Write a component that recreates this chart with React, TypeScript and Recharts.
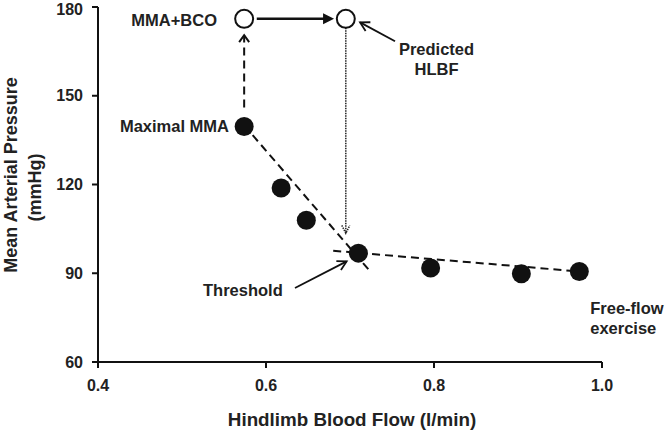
import React from 'react';
import {
  ScatterChart,
  Scatter,
  XAxis,
  YAxis,
  ReferenceLine,
  ReferenceDot,
  Customized,
} from 'recharts';

// ---- data ----
const flowMeasured = [0.574, 0.618, 0.648, 0.71, 0.796, 0.904, 0.973];
const mapMeasured = [139.6, 118.8, 107.9, 96.8, 91.8, 89.8, 90.6];
const flowPredicted = [0.574, 0.695];
const mapPredicted = [176, 176];
const xTicks = [0.4, 0.6, 0.8, 1.0];
const yTicks = [60, 90, 120, 150, 180];

// fitted regression segments [x1, y1, x2, y2]
const steepFit = [0.574, 140, 0.725, 90.3];
const flatFit = [0.68, 97.6, 0.973, 90.6];

// arrows [x1, y1, x2, y2]
const arrowUp = [0.574, 146, 0.574, 170.5];
const arrowRight = [0.589, 176, 0.681, 176];
const arrowDown = [0.695, 173, 0.695, 103.5];
const arrowPredicted = [0.7536, 168.4, 0.712, 174.8];
const arrowThreshold = [0.6345, 85.0, 0.696, 94.0];

// annotation labels
const labelTexts = ['MMA+BCO', 'Maximal MMA', 'Predicted', 'HLBF', 'Threshold', 'Free-flow', 'exercise'];
const labelX = [0.5417, 0.556, 0.803, 0.803, 0.62, 0.986, 0.986];
const labelY = [175.6, 139.6, 165.6, 158.8, 84.4, 78.3, 71.5];
const labelAnchor = ['end', 'end', 'middle', 'middle', 'end', 'start', 'start'];

const FONT = '"Liberation Sans", Arial, Helvetica, sans-serif';
const INK = '#111';
const TEXT = '#222';

const measured = flowMeasured.map((x, i) => ({ x, y: mapMeasured[i] }));
const predicted = flowPredicted.map((x, i) => ({ x, y: mapPredicted[i] }));

const seg = (s: number[]) => [
  { x: s[0], y: s[1] },
  { x: s[2], y: s[3] },
];

type ArrowOpts = {
  filled?: boolean;
  dash?: string;
  width?: number;
  headLen?: number;
  headW?: number;
  color?: string;
  headDash?: string;
};

const arrowShape = (o: ArrowOpts) => (p: any) => {
  const { x1, y1, x2, y2 } = p;
  const dx = x2 - x1;
  const dy = y2 - y1;
  const len = Math.hypot(dx, dy) || 1;
  const ux = dx / len;
  const uy = dy / len;
  const hl = o.headLen ?? 9;
  const hw = o.headW ?? 5;
  const bx = x2 - ux * hl;
  const by = y2 - uy * hl;
  const lx = bx - uy * hw;
  const ly = by + ux * hw;
  const rx = bx + uy * hw;
  const ry = by - ux * hw;
  const c = o.color ?? INK;
  const w = o.width ?? 2;
  return (
    <g>
      <line
        x1={x1}
        y1={y1}
        x2={o.filled ? bx + ux : x2}
        y2={o.filled ? by + uy : y2}
        stroke={c}
        strokeWidth={w}
        strokeDasharray={o.dash}
      />
      {o.filled ? (
        <polygon points={`${lx},${ly} ${x2},${y2} ${rx},${ry}`} fill={c} stroke="none" />
      ) : (
        <polyline
          points={`${lx},${ly} ${x2},${y2} ${rx},${ry}`}
          fill="none"
          stroke={c}
          strokeWidth={w}
          strokeDasharray={o.headDash}
        />
      )}
    </g>
  );
};

const dashedLine = (p: any) => (
  <line x1={p.x1} y1={p.y1} x2={p.x2} y2={p.y2} stroke={INK} strokeWidth={2} strokeDasharray="8 5" />
);

const Titles = () => (
  <g fontFamily={FONT} fontWeight={700} fill={TEXT}>
    <text x={352} y={419} fontSize={18.8} textAnchor="middle" dy="0.35em">
      Hindlimb Blood Flow (l/min)
    </text>
    <text
      x={11}
      y={175}
      fontSize={18}
      textAnchor="middle"
      dy="0.35em"
      transform="rotate(-90 11 175)"
    >
      Mean Arterial Pressure
    </text>
    <text
      x={35}
      y={187.6}
      fontSize={18}
      textAnchor="middle"
      dy="0.35em"
      transform="rotate(-90 35 187.6)"
    >
      (mmHg)
    </text>
  </g>
);

const tickStyle = { fontSize: 16, fontWeight: 700, fill: TEXT, fontFamily: FONT };

export default function App() {
  return (
    <div style={{ position: 'absolute', left: 0, top: 0, background: '#fff' }}>
      <ScatterChart
        width={670}
        height={433}
        margin={{ top: 7, right: 68, bottom: 41, left: 0 }}
        style={{ fontFamily: FONT }}
      >
        <XAxis
          type="number"
          dataKey="x"
          domain={[0.4, 1.0]}
          ticks={xTicks}
          allowDataOverflow
          tickFormatter={(v: number) => v.toFixed(1)}
          axisLine={{ stroke: INK, strokeWidth: 2 }}
          tickLine={{ stroke: INK, strokeWidth: 2 }}
          tickSize={6}
          tickMargin={12}
          tick={tickStyle}
          height={30}
        />
        <YAxis
          type="number"
          dataKey="y"
          domain={[60, 180]}
          ticks={yTicks}
          allowDataOverflow
          axisLine={{ stroke: INK, strokeWidth: 2 }}
          tickLine={{ stroke: INK, strokeWidth: 2 }}
          tickSize={6}
          tickMargin={9}
          tick={tickStyle}
          width={98}
        />

        <ReferenceLine segment={seg(steepFit)} shape={dashedLine} ifOverflow="visible" />
        <ReferenceLine segment={seg(flatFit)} shape={dashedLine} ifOverflow="visible" />

        <ReferenceLine
          segment={seg(arrowUp)}
          ifOverflow="visible"
          shape={arrowShape({ dash: '8 5', headLen: 7, headW: 5 })}
        />
        <ReferenceLine
          segment={seg(arrowRight)}
          ifOverflow="visible"
          shape={arrowShape({ filled: true, width: 2.5, headLen: 11, headW: 5.5 })}
        />
        <ReferenceLine
          segment={seg(arrowDown)}
          ifOverflow="visible"
          shape={arrowShape({ dash: '1.5 1', width: 1.5, headLen: 8, headW: 4, color: '#222', headDash: '1.5 1' })}
        />
        <ReferenceLine
          segment={seg(arrowPredicted)}
          ifOverflow="visible"
          shape={arrowShape({ width: 1.8, headLen: 9, headW: 5 })}
        />
        <ReferenceLine
          segment={seg(arrowThreshold)}
          ifOverflow="visible"
          shape={arrowShape({ width: 1.8, headLen: 9, headW: 5 })}
        />

        <Scatter
          data={measured}
          isAnimationActive={false}
          shape={(p: any) => <circle cx={p.cx} cy={p.cy} r={9.5} fill={INK} />}
        />
        <Scatter
          data={predicted}
          isAnimationActive={false}
          shape={(p: any) => (
            <circle cx={p.cx} cy={p.cy} r={9} fill="#fff" stroke={INK} strokeWidth={2} />
          )}
        />

        {labelTexts.map((t, i) => (
          <ReferenceDot
            key={t}
            x={labelX[i]}
            y={labelY[i]}
            ifOverflow="visible"
            shape={(p: any) => (
              <text
                x={p.cx}
                y={p.cy}
                dy="0.35em"
                textAnchor={labelAnchor[i] as any}
                fontFamily={FONT}
                fontWeight={700}
                fontSize={16.5}
                fill={TEXT}
              >
                {t}
              </text>
            )}
          />
        ))}

        <Customized component={<Titles />} />
      </ScatterChart>
    </div>
  );
}
